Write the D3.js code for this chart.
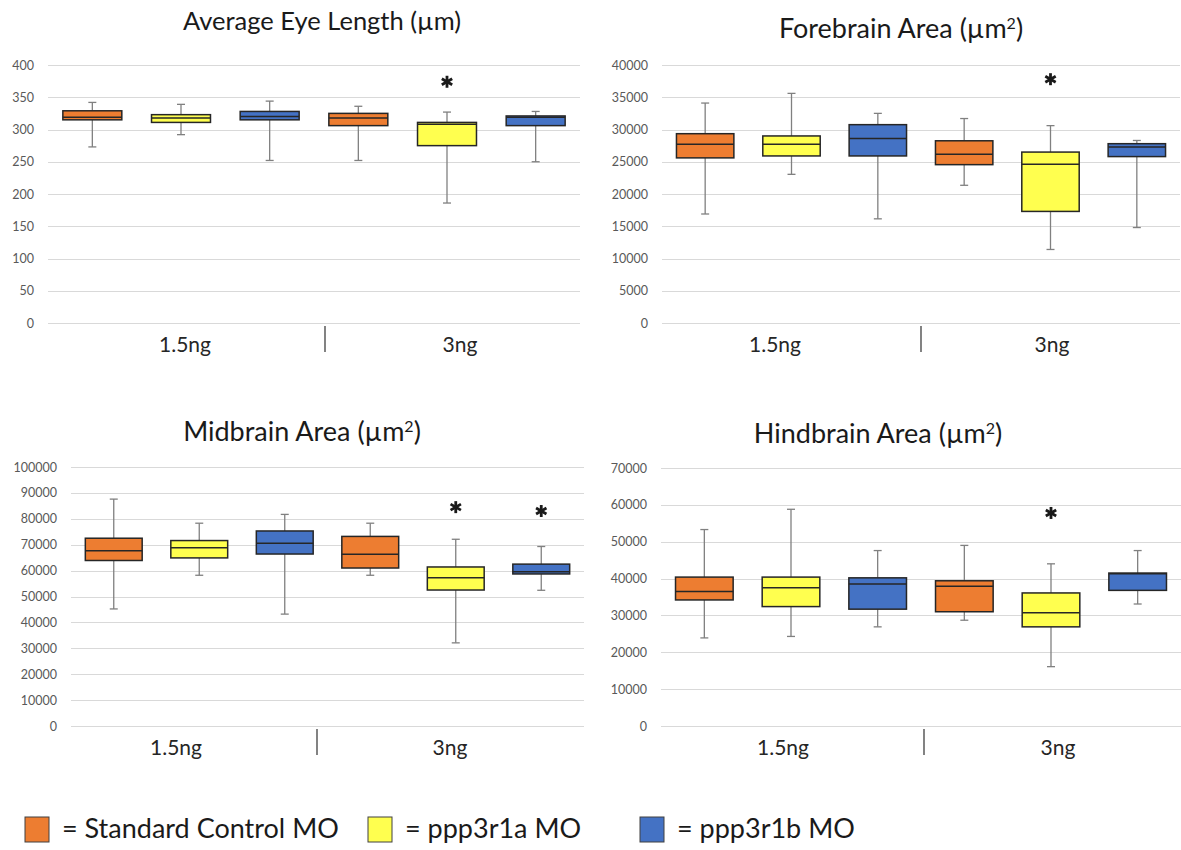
<!DOCTYPE html>
<html>
<head>
<meta charset="utf-8">
<script src="https://cdn.jsdelivr.net/npm/d3@7"></script>
<style>
  html, body { margin: 0; padding: 0; background: #fff; }
  svg { display: block; font-family: Lato, "Open Sans", sans-serif; }
</style>
</head>
<body>
<svg id="chart" width="1181" height="850"></svg>
<script>
// Treatment groups and doses
const groups = ["Standard Control MO", "ppp3r1a MO", "ppp3r1b MO"];
const doses = ["1.5ng", "3ng"];
const groupColors = ["#ED7D31", "#FFFF4F", "#4472C4"];

// Box statistics per box: [min, q1, median, q3, max]
// order: 1.5ng (control, 1a, 1b), 3ng (control, 1a, 1b)
const eyeLength = [
  [273, 315, 319, 329, 342],
  [292, 311, 318, 323, 339],
  [252, 315, 320, 328, 344],
  [252, 306, 318, 325, 336],
  [186, 275, 308, 311, 327],
  [250, 306, 319, 321, 328]
];
const forebrainArea = [
  [16900, 25600, 27700, 29350, 34100],
  [23050, 25900, 27700, 29000, 35600],
  [16150, 25900, 28600, 30750, 32500],
  [21350, 24550, 26150, 28250, 31700],
  [11400, 17300, 24600, 26500, 30600],
  [14800, 25800, 27300, 27800, 28300]
];
const midbrainArea = [
  [45200, 63900, 67700, 72500, 87600],
  [58200, 64900, 68800, 71600, 78300],
  [43200, 66400, 70600, 75300, 81700],
  [58200, 61000, 66300, 73200, 78300],
  [32100, 52500, 57200, 61400, 72100],
  [52400, 58700, 59600, 62500, 69300]
];
const hindbrainArea = [
  [23900, 34200, 36500, 40400, 53300],
  [24300, 32400, 37500, 40400, 58800],
  [26900, 31700, 38500, 40200, 47600],
  [28700, 31000, 37900, 39400, 49000],
  [16100, 26900, 30700, 36100, 44000],
  [33100, 36800, 41300, 41500, 47600]
];

// Significance markers (box index, height in axis units)
const eyeStars = [[4, 374]];
const forebrainStars = [[4, 37800]];
const midbrainStars = [[4, 84500], [5, 83000]];
const hindbrainStars = [[4, 57800]];

// Axis tick values
const eyeTicks = d3.range(0, 401, 50);
const forebrainTicks = d3.range(0, 40001, 5000);
const midbrainTicks = d3.range(0, 100001, 10000);
const hindbrainTicks = d3.range(0, 70001, 10000);

// Panel layout: plot rectangle, title anchor, dose label anchors, separator
const panels = [
  { title: "Average Eye Length (µm)", sup: false, stats: eyeLength, ticks: eyeTicks, stars: eyeStars,
    x0: 48, x1: 580, yTop: 65, yBot: 323, titleX: 322, titleY: 30, titleSize: 25.5,
    doseX: [185, 460], sepX: 325 },
  { title: "Forebrain Area (µm", sup: true, stats: forebrainArea, ticks: forebrainTicks, stars: forebrainStars,
    x0: 662, x1: 1180, yTop: 65, yBot: 323, titleX: 901, titleY: 38, titleSize: 27,
    doseX: [775, 1052], sepX: 921 },
  { title: "Midbrain Area (µm", sup: true, stats: midbrainArea, ticks: midbrainTicks, stars: midbrainStars,
    x0: 71, x1: 584, yTop: 467, yBot: 726, titleX: 302, titleY: 441, titleSize: 27,
    doseX: [176, 450], sepX: 317 },
  { title: "Hindbrain Area (µm", sup: true, stats: hindbrainArea, ticks: hindbrainTicks, stars: hindbrainStars,
    x0: 661, x1: 1181, yTop: 468, yBot: 726, titleX: 878, titleY: 443, titleSize: 27,
    doseX: [783, 1058], sepX: 924 }
];

const svg = d3.select("#chart");

panels.forEach(p => {
  const g = svg.append("g");
  const n = p.stats.length;
  const x = d3.scaleBand().domain(d3.range(n)).range([p.x0, p.x1])
    .paddingInner(0.335).paddingOuter(0.1675);
  const y = d3.scaleLinear().domain([0, d3.max(p.ticks)]).range([p.yBot, p.yTop]);

  // gridlines
  g.append("g").selectAll("line").data(p.ticks).join("line")
    .attr("x1", p.x0).attr("x2", p.x1)
    .attr("y1", d => Math.round(y(d)) + 0.5).attr("y2", d => Math.round(y(d)) + 0.5)
    .attr("stroke", "#d9d9d9").attr("stroke-width", 1.2);

  // y axis labels
  const yAxis = d3.axisLeft(y).tickValues(p.ticks).tickSize(0).tickPadding(14).tickFormat(d3.format("d"));
  const ya = g.append("g").attr("transform", `translate(${p.x0},0)`).call(yAxis);
  ya.select(".domain").remove();
  ya.selectAll("text").attr("fill", "#595959").style("font-size", "12.5px")
    .style("font-family", "Lato, 'Open Sans', sans-serif");

  // title
  const t = g.append("text").attr("x", p.titleX).attr("y", p.titleY)
    .attr("text-anchor", "middle").attr("fill", "#1a1a1a").style("font-size", p.titleSize + "px")
    .text(p.title);
  if (p.sup) {
    t.append("tspan").attr("baseline-shift", "super").style("font-size", "16px").text("2");
    t.append("tspan").text(")");
  }

  // dose labels and separator
  doses.forEach((d, i) => {
    g.append("text").attr("x", p.doseX[i]).attr("y", p.yBot + 29)
      .attr("text-anchor", "middle").attr("fill", "#262626").style("font-size", "21px").text(d);
  });
  g.append("line").attr("x1", p.sepX).attr("x2", p.sepX)
    .attr("y1", p.yBot + 3).attr("y2", p.yBot + 29)
    .attr("stroke", "#404040").attr("stroke-width", 1.3);

  // boxes
  const boxes = g.append("g").selectAll("g").data(p.stats).join("g");
  const cx = i => x(i) + x.bandwidth() / 2;
  boxes.each(function(s, i) {
    const b = d3.select(this);
    const c = cx(i);
    const [mn, q1, md, q3, mx] = s;
    const wc = "#808080";
    b.append("line").attr("x1", c).attr("x2", c).attr("y1", y(mx)).attr("y2", y(q3))
      .attr("stroke", wc).attr("stroke-width", 1.3);
    b.append("line").attr("x1", c).attr("x2", c).attr("y1", y(q1)).attr("y2", y(mn))
      .attr("stroke", wc).attr("stroke-width", 1.3);
    [mn, mx].forEach(v => {
      b.append("line").attr("x1", c - 4).attr("x2", c + 4).attr("y1", y(v)).attr("y2", y(v))
        .attr("stroke", wc).attr("stroke-width", 1.3);
    });
    b.append("rect").attr("x", x(i)).attr("width", x.bandwidth())
      .attr("y", y(q3)).attr("height", y(q1) - y(q3))
      .attr("fill", groupColors[i % 3]).attr("stroke", "#262626").attr("stroke-width", 1.5);
    b.append("line").attr("x1", x(i)).attr("x2", x(i) + x.bandwidth())
      .attr("y1", y(md)).attr("y2", y(md)).attr("stroke", "#262626").attr("stroke-width", 1.5);
  });

  // significance asterisks
  p.stars.forEach(([i, v]) => {
    const c = cx(i), cy = y(v), r = 6;
    const star = g.append("g").attr("transform", `translate(${c},${cy})`);
    [90, 30, 150].forEach(a => {
      const rad = a * Math.PI / 180;
      star.append("line")
        .attr("x1", -r * Math.cos(rad)).attr("y1", -r * Math.sin(rad))
        .attr("x2", r * Math.cos(rad)).attr("y2", r * Math.sin(rad))
        .attr("stroke", "#1a1a1a").attr("stroke-width", 2.8);
    });
  });
});

// legend
const legendX = [25, 368, 640];
const legend = svg.append("g").selectAll("g").data(groups).join("g")
  .attr("transform", (d, i) => `translate(${legendX[i]},817)`);
legend.append("rect").attr("width", 24).attr("height", 25)
  .attr("fill", (d, i) => groupColors[i]).attr("stroke", "#404040").attr("stroke-width", 1);
legend.append("text").attr("x", 37).attr("y", 21).attr("fill", "#1a1a1a")
  .style("font-size", "27px").text(d => "= " + d);
</script>
</body>
</html>
